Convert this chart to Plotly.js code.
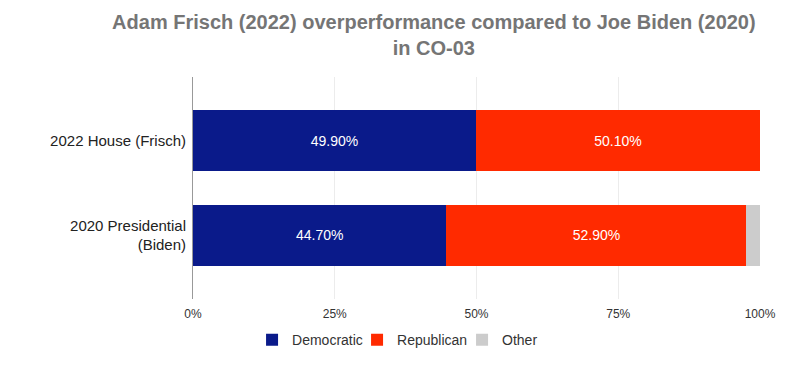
<!DOCTYPE html>
<html>
<head>
<meta charset="utf-8">
<script src="https://cdn.plot.ly/plotly-3.0.1.min.js"></script>
<style>html,body{margin:0;padding:0;background:#fff}#chart{width:811px;height:378px}</style>
</head>
<body>
<div id="chart"></div>
<script>
var categories = ["2020 Presidential<br>(Biden)", "2022 House (Frisch)"];
var democratic = [44.7, 49.9];
var republican = [52.9, 50.1];
var other = [2.4, 0];
var tickValues = [0, 25, 50, 75, 100];

var common = {
  type: "bar",
  orientation: "h",
  y: categories,
  width: 0.64,
  textposition: "inside",
  insidetextanchor: "middle",
  textfont: {family: "Liberation Sans, Arial, sans-serif", size: 14, color: "#ffffff"},
  hoverinfo: "x+name"
};

var traces = [
  Object.assign({}, common, {name: "Democratic", x: democratic, marker: {color: "#0a1a8a"}, texttemplate: "%{x:.2f}%"}),
  Object.assign({}, common, {name: "Republican", x: republican, marker: {color: "#ff2a00"}, texttemplate: "%{x:.2f}%"}),
  Object.assign({}, common, {name: "Other", x: other, marker: {color: "#cccccc"}, texttemplate: ""})
];

var layout = {
  width: 811,
  height: 378,
  barmode: "stack",
  margin: {l: 193, r: 51, t: 77, b: 79},
  paper_bgcolor: "#ffffff",
  plot_bgcolor: "#ffffff",
  font: {family: "Liberation Sans, Arial, sans-serif", color: "#222222"},
  title: {
    text: "Adam Frisch (2022) overperformance compared to Joe Biden (2020)<br>in CO-03",
    font: {family: "Liberation Sans, Arial, sans-serif", size: 20, color: "#757575", weight: "bold"},
    xref: "container", x: 0.535, xanchor: "center",
    yref: "container", y: 0.922, yanchor: "top"
  },
  xaxis: {
    range: [0, 100],
    tickvals: tickValues,
    ticktext: tickValues.map(function(v){return v + "%";}),
    showgrid: true,
    gridcolor: "#ececec",
    zeroline: false,
    showline: false,
    ticks: "",
    ticklabelstandoff: 6,
    tickfont: {size: 12, color: "#333333"},
    fixedrange: true
  },
  yaxis: {
    type: "category",
    range: [-0.67, 1.67],
    showline: true,
    linecolor: "#999999",
    linewidth: 1,
    showgrid: false,
    zeroline: false,
    ticks: "",
    ticklabelstandoff: 3,
    tickfont: {size: 15, color: "#222222"},
    fixedrange: true
  },
  showlegend: true,
  legend: {
    orientation: "h",
    xref: "container", x: 0.505, xanchor: "center",
    yref: "container", y: 0.1, yanchor: "middle",
    font: {size: 14, color: "#333333"},
    traceorder: "normal",
    itemwidth: 30,
    entrywidth: 60,
    entrywidthmode: "pixels"
  }
};

Plotly.newPlot("chart", traces, layout, {displayModeBar: false, staticPlot: true});
</script>
</body>
</html>
